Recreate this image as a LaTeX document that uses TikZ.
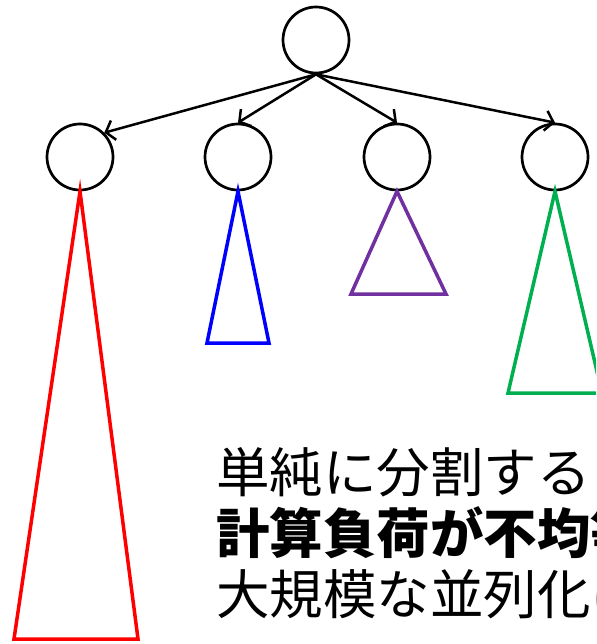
\documentclass[tikz,border=0pt]{standalone}
\usepackage{fontspec}
\newfontfamily\cjk{Noto Sans CJK JP}
\usetikzlibrary{arrows.meta}
\definecolor{tred}{RGB}{255,0,0}
\definecolor{tblue}{RGB}{0,0,255}
\definecolor{tpurple}{RGB}{112,48,160}
\definecolor{tgreen}{RGB}{0,176,80}
\tikzset{
  treenode/.style={circle,draw=black,line width=2.7pt,minimum size=66pt,inner sep=0pt},
  edge/.style={line width=2.5pt,-{Straight Barb[length=8pt,width=20pt,line width=2.5pt]}},
  subtree/.style={line width=3.5pt,line join=miter},
  txt/.style={anchor=base west,inner sep=0pt,font=\cjk\fontsize{53.5pt}{60pt}\selectfont}
}
\begin{document}
\begin{tikzpicture}[x=1pt,y=-1pt]
\useasboundingbox (0,0) rectangle (596,644);
\clip (0,0) rectangle (596,644);
\node[treenode] (r) at (316,40) {};
\node[treenode] (c1) at (80,157) {};
\node[treenode] (c2) at (238,157) {};
\node[treenode] (c3) at (397,157) {};
\node[treenode] (c4) at (555,157) {};
\draw[edge] (r.south) -- (c1.north east);
\draw[edge] (r.south) -- (c2.north);
\draw[edge] (r.south) -- (c3.north);
\draw[edge] (r.south) -- (c4.north);
\coordinate (b1l) at (14,639); \coordinate (b1r) at (138,639);
\coordinate (b2l) at (207,343); \coordinate (b2r) at (269,343);
\coordinate (b3l) at (351,294); \coordinate (b3r) at (446,294);
\coordinate (b4l) at (508,393); \coordinate (b4r) at (602,393);
\draw[subtree,tred] (c1.south) -- (b1l) -- (b1r) -- cycle;
\draw[subtree,tblue] (c2.south) -- (b2l) -- (b2r) -- cycle;
\draw[subtree,tpurple] (c3.south) -- (b3l) -- (b3r) -- cycle;
\draw[subtree,tgreen] (c4.south) -- (b4l) -- (b4r) -- cycle;
\node[txt] (t1) at (216,492) {単純に分割すると};
\node[txt] (t2) at (216,553) {\bfseries 計算負荷が不均等};
\node[txt] (t3) at (216,614) {大規模な並列化には};
\end{tikzpicture}
\end{document}
